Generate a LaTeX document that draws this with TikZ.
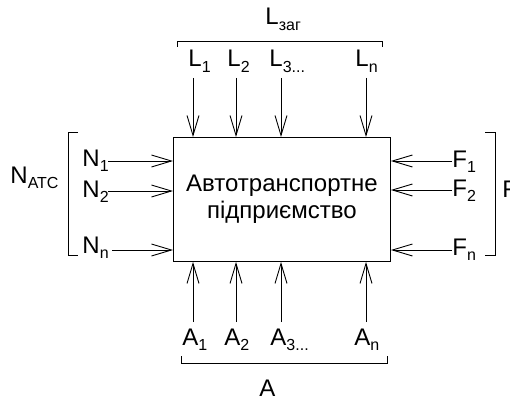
\documentclass[tikz,border=0pt]{standalone}
\usepackage{fontspec}
\setmainfont{Liberation Sans}
\usetikzlibrary{arrows.meta}
\newcommand\lowsub[1]{\raisebox{-0.22em}{\fontsize{16}{16}\selectfont #1}}
\begin{document}
\begin{tikzpicture}[x=1pt,y=-1pt,line width=0.9pt,
  lab/.style={inner sep=0pt, anchor=base west, font=\fontsize{24}{24}\selectfont},
  arr/.style={-{Straight Barb[length=20pt,width=12pt]}},
  brk/.style={line width=0.9pt}]
\useasboundingbox (0,0) rectangle (510,401);
\node[draw, minimum width=217pt, minimum height=124pt, inner sep=0pt, anchor=north west,
      align=center, font=\fontsize{24}{27}\selectfont] (box) at (173,137)
      {Автотранспортне\\підприємство};
% top
\coordinate (t1) at (193,78); \coordinate (t2) at (236,78);
\coordinate (t3) at (281,78); \coordinate (t4) at (366,78);
\foreach \c in {t1,t2,t3,t4} \draw[arr] (\c) -- (\c |- box.north);
% bottom
\coordinate (b1) at (193,322); \coordinate (b2) at (236,322);
\coordinate (b3) at (281,322); \coordinate (b4) at (366,322);
\foreach \c in {b1,b2,b3,b4} \draw[arr] (\c) -- (\c |- box.south);
% left
\coordinate (n1) at (108,161); \coordinate (n2) at (108,191); \coordinate (n3) at (112,250);
\foreach \c in {n1,n2,n3} \draw[arr] (\c) -- (\c -| box.west);
% right
\coordinate (f1) at (452,161); \coordinate (f2) at (452,190); \coordinate (f3) at (452,250);
\foreach \c in {f1,f2,f3} \draw[arr] (\c) -- (\c -| box.east);
% brackets
\draw[brk] (177,47) -- (177,41) -- (382,41) -- (382,47);
\draw[brk] (78,132) -- (68,132) -- (68,255) -- (78,255);
\draw[brk] (485,132) -- (495,132) -- (495,255) -- (485,255);
\draw[brk] (181,356) -- (181,363) -- (387,363) -- (387,356);
% labels
\node[lab] (lz) at (265,25) {L\lowsub{заг}};
\node[lab] (l1) at (188,67) {L\lowsub{1}};
\node[lab] (l2) at (227,67) {L\lowsub{2}};
\node[lab] (l3) at (269,67) {L\lowsub{3...}};
\node[lab] (ln) at (355,67) {L\lowsub{n}};
\node[lab] (natc) at (10,183) {N\lowsub{АТС}};
\node[lab] (nl1) at (82,166) {N\lowsub{1}};
\node[lab] (nl2) at (82,197) {N\lowsub{2}};
\node[lab] (nln) at (82,253) {N\lowsub{n}};
\node[lab] (fl1) at (452,167) {F\lowsub{1}};
\node[lab] (fl2) at (452,196) {F\lowsub{2}};
\node[lab] (fln) at (452,255) {F\lowsub{n}};
\node[lab] (ff) at (502,197) {F};
\node[lab] (a1) at (182,345) {A\lowsub{1}};
\node[lab] (a2) at (224,345) {A\lowsub{2}};
\node[lab] (a3) at (270,345) {A\lowsub{3...}};
\node[lab] (an) at (354,345) {A\lowsub{n}};
\node[lab] (aa) at (259,396) {A};
\end{tikzpicture}
\end{document}
